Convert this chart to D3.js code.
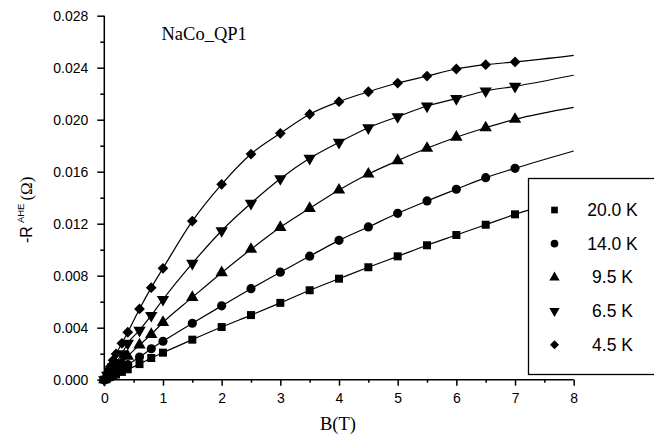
<!DOCTYPE html>
<html><head><meta charset="utf-8">
<script src="https://cdn.jsdelivr.net/npm/d3@7"></script>
<style>body{margin:0;background:#fff}svg{display:block}</style>
</head><body><svg id="c" width="654" height="443"></svg>
<script>
// ---- data ----
const fieldB = [0, 0.05, 0.1, 0.15, 0.2, 0.3, 0.4, 0.6, 0.8, 1.0, 1.5, 2.0, 2.5, 3.0, 3.5, 4.0, 4.5, 5.0, 5.5, 6.0, 6.5, 7.0];
const r20K  = [0, 0.0001, 0.0002, 0.0003, 0.0004, 0.0006, 0.0008, 0.0012, 0.00167, 0.00208, 0.00308, 0.00405, 0.00497, 0.00591, 0.00688, 0.00777, 0.00865, 0.00949, 0.01034, 0.01113, 0.01192, 0.01272];
const r14K  = [0, 0.00015, 0.0003, 0.00044, 0.00058, 0.00087, 0.00116, 0.00174, 0.00238, 0.00296, 0.00434, 0.00568, 0.0070, 0.00827, 0.0095, 0.01072, 0.01175, 0.0128, 0.01375, 0.01465, 0.01554, 0.01626];
const r9_5K = [0, 0.00022, 0.00044, 0.00066, 0.00088, 0.0013, 0.0018, 0.00267, 0.00349, 0.0044, 0.00633, 0.00823, 0.01003, 0.01172, 0.01318, 0.01459, 0.01582, 0.01685, 0.0178, 0.01865, 0.01938, 0.02003];
const r6_5K = [0, 0.00033, 0.00066, 0.001, 0.0013, 0.002, 0.0028, 0.0038, 0.00494, 0.00617, 0.00895, 0.01146, 0.01357, 0.01546, 0.01703, 0.01826, 0.01938, 0.02023, 0.02105, 0.02162, 0.02221, 0.02257];
const r4_5K = [0, 0.0005, 0.001, 0.0015, 0.00198, 0.0028, 0.00365, 0.00544, 0.00708, 0.00857, 0.0122, 0.01503, 0.01736, 0.01895, 0.02042, 0.02139, 0.02215, 0.02282, 0.02336, 0.0239, 0.02423, 0.02444];
const seriesNames = ["20.0 K", "14.0 K", "9.5 K", "6.5 K", "4.5 K"];
const fitEndB = 8;
const fitEndValues = [0.0140, 0.01759, 0.02095, 0.02342, 0.02495];
const xTickValues = [0, 1, 2, 3, 4, 5, 6, 7, 8];
const yTickValues = [0, 0.004, 0.008, 0.012, 0.016, 0.020, 0.024, 0.028];
const sampleLabel = "NaCo_QP1";

// ---- chart ----
const seriesValues = [r20K, r14K, r9_5K, r6_5K, r4_5K];
const svg = d3.select("#c");
const x = d3.scaleLinear().domain([0, 8]).range([104.3, 573.7]);
const y = d3.scaleLinear().domain([0, 0.028]).range([379.7, 15.7]);

const symTypes = [
  {t: d3.symbolSquare, size: 64, rot: 0},
  {t: d3.symbolCircle, size: 66, rot: 0},
  {t: d3.symbolTriangle, size: 66, rot: 0},
  {t: d3.symbolTriangle, size: 66, rot: 180},
  {t: d3.symbolSquare, size: 58, rot: 45}
];

const line = d3.line().x(d => x(d[0])).y(d => y(d[1])).curve(d3.curveMonotoneX);
const plot = svg.append("g");
seriesValues.forEach((vals, i) => {
  const pts = fieldB.map((b, j) => [b, vals[j]]);
  pts.push([fitEndB, fitEndValues[i]]);
  plot.append("path").attr("d", line(pts)).attr("fill", "none")
      .attr("stroke", "#000").attr("stroke-width", 1.2);
});
seriesValues.forEach((vals, i) => {
  const s = symTypes[i];
  const sym = d3.symbol().type(s.t).size(s.size);
  plot.selectAll(null).data(fieldB.map((b, j) => [b, vals[j]])).enter()
    .append("path").attr("d", sym)
    .attr("transform", d => `translate(${x(d[0])},${y(d[1])}) rotate(${s.rot})`)
    .attr("fill", "#000");
});

// axes
const font = "'Liberation Sans', Arial, sans-serif";
const xAxis = d3.axisBottom(x).tickValues(xTickValues).tickSize(6).tickFormat(d3.format("d"));
const yAxis = d3.axisLeft(y).tickValues(yTickValues).tickSize(7).tickFormat(d3.format(".3f"));
const xMinor = d3.axisBottom(x).tickValues(d3.range(0.5, 8, 1)).tickSize(3).tickFormat("");
const yMinor = d3.axisLeft(y).tickValues(d3.range(0.002, 0.028, 0.004)).tickSize(4).tickFormat("");

function styleAxis(g) {
  g.select(".domain").attr("stroke", "#000").attr("stroke-width", 1.5);
  g.selectAll(".tick line").attr("stroke", "#000").attr("stroke-width", 1.5);
  g.selectAll(".tick text").attr("font-family", font).attr("font-size", 14).attr("fill", "#000");
}
const gx = svg.append("g").attr("transform", `translate(0,${y(0)})`).call(xAxis).call(styleAxis);
gx.select(".domain").attr("d", `M${x(0)},0H${x(8)}`);
gx.selectAll(".tick text").attr("dy", null).attr("y", 23);
svg.append("g").attr("transform", `translate(0,${y(0)})`).call(xMinor).call(styleAxis).select(".domain").remove();
const gy = svg.append("g").attr("transform", `translate(${x(0)},0)`).call(yAxis).call(styleAxis);
gy.select(".domain").attr("d", `M0,${y(0)}V${y(0.028)}`);
gy.selectAll(".tick text").attr("x", -16);
svg.append("g").attr("transform", `translate(${x(0)},0)`).call(yMinor).call(styleAxis).select(".domain").remove();

// labels
svg.append("text").attr("x", 161.5).attr("y", 39.5)
  .attr("font-family", "'Liberation Serif', 'Times New Roman', serif").attr("font-size", 18.5)
  .text(sampleLabel);
svg.append("text").attr("x", x(4) - 1).attr("y", 430).attr("text-anchor", "middle")
  .attr("font-family", "'Liberation Serif', 'Times New Roman', serif").attr("font-size", 18.5)
  .text("B(T)");
const yl = svg.append("text").attr("transform", "translate(32,243) rotate(-90)")
  .attr("font-family", font).attr("font-size", 16);
yl.append("tspan").text("-R");
yl.append("tspan").attr("font-size", 9.5).attr("dy", -8).attr("dx", 3).text("AHE");
yl.append("tspan").attr("dy", 8).attr("dx", 3)
  .attr("font-family", "'Liberation Serif', 'Times New Roman', serif").attr("font-size", 17).text("(Ω)");

// legend
const lg = svg.append("g");
lg.append("rect").attr("x", 528.5).attr("y", 178.5).attr("width", 140).attr("height", 196)
  .attr("fill", "#fff").attr("stroke", "#000").attr("stroke-width", 1.3);
seriesNames.forEach((name, i) => {
  const cy = 210 + i * 33.7;
  const s = symTypes[i];
  lg.append("path").attr("d", d3.symbol().type(s.t).size(s.size * 0.7))
    .attr("transform", `translate(554.5,${cy}) rotate(${s.rot})`).attr("fill", "#000");
  lg.append("text").attr("x", 612.5).attr("y", cy + 6).attr("text-anchor", "middle")
    .attr("font-family", font).attr("font-size", 17.5).text(name);
});
</script></body></html>
